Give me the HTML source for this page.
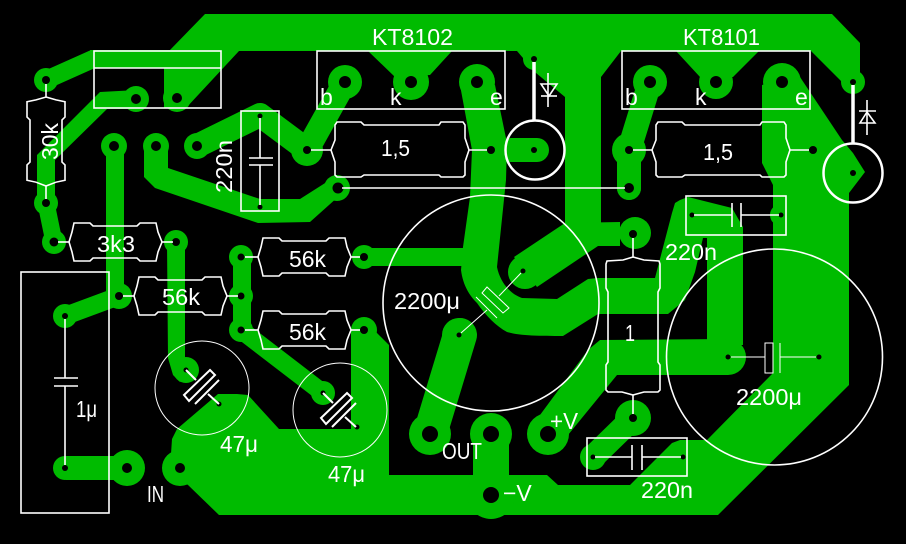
<!DOCTYPE html>
<html lang="en">
<head>
<meta charset="utf-8">
<title>PCB layout</title>
<style>
html,body{margin:0;padding:0;background:#000;width:906px;height:544px;overflow:hidden}
svg{display:block;position:absolute;left:0;top:0}
text{font-family:"Liberation Sans",sans-serif;font-size:23px;fill:#fff;stroke:none}
</style>
</head>
<body>
<svg width="906" height="544" viewBox="0 0 906 544" xmlns="http://www.w3.org/2000/svg">
<defs>
<path id="r" d="M0 0L3-10L5-19L21-19L24-16L68-16L71-19L87-19L89-10L93 0L89 10L87 19L71 19L68 16L24 16L21 19L5 19L3 10Z"/>
<path id="rb" d="M0 0L4-10L4-25L6-28L30-28L33-25L108-25L110-28L132-28L134-25L134-12L138 0L134 12L134 25L132 27L110 27L108 25L33 25L30 27L6 27L4 25L4 12Z"/>
<g id="c47">
<polygon points="210,370 215,375 189,401 184,395" fill="none" stroke="#fff" stroke-width="2"/>
<line x1="219" y1="380" x2="195" y2="404" stroke="#fff" stroke-width="2"/>
<line x1="186" y1="370" x2="196" y2="380" stroke="#fff" stroke-width="2"/>
<line x1="219" y1="404" x2="208" y2="394" stroke="#fff" stroke-width="2"/>
</g>
</defs>
<rect width="906" height="544" fill="#000"/>

<!-- copper -->
<g fill="#00bb00" stroke="none">
<polygon points="205,14 832,14 860,43 860,82 842,82 811,51 759,51 733,77 700,77 676,51 621,51 601,77 601,226 565,226 565,97 530,68 523,58 517,51 452,51 430,75 395,77 368,51 239,51 186,108 164,108 164,68 93,68 90,50 170,50"/>
<path d="M460 85L472 150L470 197L463 247L461 270C463 286 470 296 477 303C486 316 496 326 507 332C520 336 540 336 563 336L598 314L598 278L588 279L557 299L522 298C510 294 500 282 497 267L506 180L507 143L495 85Z"/>
<polygon points="672,213 675,203 680,200 688,197 732,208 743,227 743,345 707,345 707,238 703,238 695,272 685,300 668,314 597,314 597,278 655,278"/>
<polygon points="540,415 588,350 600,340 728,339 728,375 617,375 568,435"/>
<polygon points="514,257 565,223 620,222 620,246 598,246 537,287"/>
<polygon points="37,157 37,155 100,92 136,90 136,109 107,109 55,160 55,205 37,205"/>
<polygon points="144,146 144,177 155,188 258,223 310,222 348,188 333,178 300,199 260,199 168,168 168,146"/>
<polygon points="351,330 351,429 300,429 279,429 248,395 237,394 218,394 177,429 172,439 171,454 162,468 188,485 219,515 718,515 849,385 849,193 865,172 853,153 842,140 800,77 762,85 762,163 773,185 773,373 707,440 680,440 672,443 630,485 558,485 547,475 509,475 509,440 473,440 473,475 389,475 389,345 376,332"/>
<polygon points="106,146 124,146 124,300 106,300"/>
<polygon points="167,242 185,242 185,358 197,370 180,382 173,375 168,358"/>
<polygon points="233,257 251,257 251,330 233,330"/>
<polygon points="364,248 465,248 465,266 364,266"/>
<polygon points="66,456 127,456 127,480 66,480"/>
</g>
<g fill="none" stroke="#00bb00" stroke-linecap="round" stroke-linejoin="round">
<line x1="46" y1="80" x2="93" y2="59" stroke-width="18"/>
<line x1="65" y1="316" x2="119" y2="296" stroke-width="18"/>
<line x1="46" y1="203" x2="54" y2="242" stroke-width="17"/>
<polyline points="197,146 260,115 307,150" stroke-width="24"/>
<line x1="307" y1="150" x2="345" y2="82" stroke-width="24"/>
<line x1="241" y1="330" x2="323" y2="393" stroke-width="18"/>
<line x1="650" y1="82" x2="629" y2="150" stroke-width="24"/>
<line x1="629" y1="150" x2="629" y2="188" stroke-width="24"/>
<line x1="633" y1="418" x2="593" y2="457" stroke-width="24"/>
<line x1="430" y1="434" x2="460" y2="335" stroke-width="34"/>
<line x1="511" y1="150" x2="537" y2="150" stroke-width="24"/>
</g>
<g fill="#00bb00">
<circle cx="46" cy="80" r="12"/><circle cx="46" cy="203" r="12"/><circle cx="54" cy="242" r="12"/>
<circle cx="176" cy="242" r="12"/><circle cx="136" cy="99" r="13"/><circle cx="177" cy="98" r="14"/>
<circle cx="114" cy="146" r="13"/><circle cx="156" cy="146" r="13"/><circle cx="197" cy="146" r="13"/>
<circle cx="119" cy="296" r="13"/><circle cx="65" cy="316" r="12"/><circle cx="65" cy="468" r="12"/>
<circle cx="127" cy="468" r="18"/><circle cx="180" cy="468" r="18"/>
<circle cx="241" cy="257" r="12"/><circle cx="241" cy="296" r="12"/><circle cx="241" cy="330" r="12"/>
<circle cx="186" cy="370" r="13"/><circle cx="323" cy="393" r="12"/>
<circle cx="364" cy="257" r="12"/><circle cx="364" cy="330" r="13"/>
<circle cx="345" cy="82" r="17"/><circle cx="411" cy="82" r="18"/><circle cx="477" cy="82" r="18"/>
<circle cx="650" cy="82" r="17"/><circle cx="716" cy="82" r="17"/><circle cx="782" cy="82" r="19"/>
<circle cx="534" cy="59" r="11"/><circle cx="853" cy="82" r="12"/>
<circle cx="307" cy="150" r="16"/><circle cx="337" cy="188" r="13"/>
<circle cx="629" cy="150" r="17"/><circle cx="629" cy="188" r="12"/>
<circle cx="635" cy="233" r="16"/><circle cx="633" cy="418" r="18"/>
<circle cx="525" cy="272" r="17"/><circle cx="459" cy="335" r="17"/>
<circle cx="430" cy="434" r="21"/><circle cx="491" cy="434" r="21"/><circle cx="548" cy="434" r="21"/>
<circle cx="491" cy="495" r="24"/>
<circle cx="593" cy="457" r="13"/><circle cx="781" cy="215" r="11"/><circle cx="728" cy="357" r="18"/>
<circle cx="692" cy="215" r="10"/>
</g>

<!-- holes -->
<g fill="#000">
<circle cx="46" cy="80" r="4"/><circle cx="46" cy="203" r="4"/><circle cx="54" cy="242" r="4.5"/>
<circle cx="176" cy="242" r="4"/><circle cx="136" cy="99" r="5"/><circle cx="177" cy="98" r="5"/>
<circle cx="114" cy="146" r="5"/><circle cx="156" cy="146" r="5"/><circle cx="197" cy="146" r="5"/>
<circle cx="119" cy="296" r="4"/><circle cx="65" cy="316" r="3"/><circle cx="65" cy="468" r="3"/>
<circle cx="127" cy="468" r="5"/><circle cx="180" cy="468" r="5"/>
<circle cx="241" cy="257" r="3.5"/><circle cx="241" cy="296" r="3.5"/><circle cx="241" cy="330" r="3.5"/>
<circle cx="186" cy="370" r="2.5"/><circle cx="219" cy="404" r="2.5"/><circle cx="323" cy="393" r="2.5"/><circle cx="357" cy="427" r="2.5"/>
<circle cx="260" cy="116" r="2.5"/><circle cx="260" cy="207" r="2.5"/>
<circle cx="364" cy="257" r="4"/><circle cx="364" cy="330" r="4"/>
<circle cx="345" cy="82" r="6"/><circle cx="411" cy="82" r="6"/><circle cx="477" cy="82" r="6"/>
<circle cx="650" cy="82" r="6"/><circle cx="716" cy="82" r="6"/><circle cx="782" cy="82" r="6"/>
<circle cx="534" cy="59" r="3"/><circle cx="853" cy="82" r="3"/>
<circle cx="307" cy="150" r="4"/><circle cx="491" cy="150" r="4"/><circle cx="534" cy="150" r="3"/>
<circle cx="338" cy="188" r="5.5"/><circle cx="629" cy="150" r="4"/><circle cx="813" cy="150" r="4"/><circle cx="629" cy="188" r="5"/>
<circle cx="853" cy="173" r="3"/><circle cx="633" cy="234" r="4"/><circle cx="633" cy="418" r="4"/>
<circle cx="523" cy="271" r="2.5"/><circle cx="459" cy="335" r="2.5"/>
<circle cx="430" cy="434" r="8"/><circle cx="491" cy="434" r="8"/><circle cx="548" cy="434" r="8"/><circle cx="491" cy="495" r="8"/>
<circle cx="593" cy="457" r="2.5"/><circle cx="683" cy="457" r="2.5"/>
<circle cx="692" cy="215" r="2.5"/><circle cx="781" cy="215" r="2.5"/>
<circle cx="728" cy="357" r="2.5"/><circle cx="819" cy="357" r="2.5"/>
</g>

<!-- silkscreen -->
<g fill="none" stroke="#fff" stroke-width="1.6">
<rect x="94" y="51" width="127" height="57"/><line x1="94" y1="68" x2="221" y2="68"/>
<rect x="317" y="51" width="188" height="58"/>
<rect x="622" y="51" width="188" height="58"/>
<rect x="241" y="111" width="38" height="100"/>
<rect x="686" y="196" width="100" height="39"/>
<rect x="587" y="438" width="100" height="38"/>
<rect x="21" y="272" width="88" height="241"/>

<use href="#r" x="69" y="242"/>
<use href="#r" x="134" y="296"/>
<use href="#r" x="258" y="257"/>
<use href="#r" x="258" y="330"/>
<use href="#r" transform="translate(46 97) rotate(90) scale(.957 1)"/>
<use href="#rb" x="652" y="150"/>
<use href="#rb" x="331" y="150"/>
<path d="M633 257L623 260L607 261L606 264L606 288L608 292L608 362L606 365L606 390L608 392L622 392L633 395L644 392L658 392L660 390L660 365L658 362L658 292L660 288L660 264L659 261L644 260Z"/>

<!-- resistor leads -->
<line x1="46" y1="84" x2="46" y2="97"/><line x1="46" y1="186" x2="46" y2="199"/>
<line x1="58" y1="242" x2="69" y2="242"/><line x1="162" y1="242" x2="173" y2="242"/>
<line x1="123" y1="296" x2="134" y2="296"/><line x1="227" y1="296" x2="238" y2="296"/>
<line x1="245" y1="257" x2="258" y2="257"/><line x1="351" y1="257" x2="360" y2="257"/>
<line x1="245" y1="330" x2="258" y2="330"/><line x1="351" y1="330" x2="360" y2="330"/>
<line x1="311" y1="150" x2="331" y2="150"/><line x1="469" y1="150" x2="487" y2="150"/>
<line x1="633" y1="150" x2="652" y2="150"/><line x1="790" y1="150" x2="809" y2="150"/>
<line x1="633" y1="238" x2="633" y2="257"/><line x1="633" y1="395" x2="633" y2="414"/>
<line x1="342" y1="188" x2="625" y2="188"/>

<!-- capacitors -->
<line x1="260" y1="118" x2="260" y2="158"/><line x1="260" y1="165" x2="260" y2="205"/>
<line x1="249" y1="158" x2="273" y2="158"/><line x1="249" y1="165" x2="273" y2="165"/>
<line x1="694" y1="215" x2="732" y2="215"/><line x1="741" y1="215" x2="779" y2="215"/>
<line x1="732" y1="203" x2="732" y2="227"/><line x1="741" y1="203" x2="741" y2="227"/>
<line x1="595" y1="457" x2="632" y2="457"/><line x1="642" y1="457" x2="681" y2="457"/>
<line x1="632" y1="445" x2="632" y2="470"/><line x1="642" y1="445" x2="642" y2="470"/>
<line x1="65" y1="319" x2="65" y2="378"/><line x1="65" y1="386" x2="65" y2="465"/>
<line x1="54" y1="378" x2="78" y2="378"/><line x1="54" y1="386" x2="78" y2="386"/>

<circle cx="491" cy="303" r="108"/>
<circle cx="774.5" cy="357" r="108"/>
<circle cx="202" cy="388" r="47" stroke-width="1"/>
<circle cx="340" cy="410" r="47" stroke-width="1"/>
</g>
<use href="#c47"/>
<use href="#c47" transform="translate(137 23)"/>
<g fill="none" stroke="#fff" stroke-width="1">
<line x1="731" y1="357" x2="765" y2="357"/><rect x="765" y="343" width="8" height="30"/>
<line x1="780" y1="343" x2="780" y2="373"/><line x1="780" y1="357" x2="816" y2="357"/>
<polygon points="487,287 509,308 503,313 482,293"/>
<line x1="476" y1="297" x2="497" y2="318"/>
<line x1="521" y1="273" x2="499" y2="296"/><line x1="461" y1="333" x2="487" y2="310"/>
</g>

<!-- diodes & big pads -->
<g fill="none" stroke="#fff">
<line x1="534" y1="62" x2="534" y2="121" stroke-width="3.5"/>
<line x1="853" y1="85" x2="853" y2="144" stroke-width="3.5"/>
<circle cx="535" cy="150" r="29.5" stroke-width="2.5"/>
<circle cx="853" cy="173" r="29.5" stroke-width="2.5"/>
<g stroke-width="1.6">
<line x1="548" y1="73" x2="548" y2="107"/><polygon points="541,84 557,84 549,96"/><line x1="541" y1="96" x2="557" y2="96"/>
<line x1="867" y1="100" x2="867" y2="135"/><polygon points="860,123 875,123 867,112"/><line x1="859" y1="111" x2="876" y2="111"/>
</g>
</g>

<!-- labels -->
<text x="372" y="45" textLength="81" lengthAdjust="spacingAndGlyphs">KT8102</text>
<text x="683" y="45" textLength="77" lengthAdjust="spacingAndGlyphs">KT8101</text>
<text x="320" y="105" font-size="22">b</text>
<text x="390" y="105">k</text>
<text x="490" y="105">e</text>
<text x="625" y="105">b</text>
<text x="695" y="105">k</text>
<text x="795" y="105">e</text>
<text x="381" y="156" textLength="29" lengthAdjust="spacingAndGlyphs">1,5</text>
<text x="703" y="160" textLength="30" lengthAdjust="spacingAndGlyphs">1,5</text>
<text transform="translate(58 160) rotate(-90)" textLength="37" lengthAdjust="spacingAndGlyphs">30k</text>
<text transform="translate(232 193) rotate(-90)" textLength="53" lengthAdjust="spacingAndGlyphs">220n</text>
<text x="97" y="252" textLength="38" lengthAdjust="spacingAndGlyphs">3k3</text>
<text x="162" y="305" textLength="38" lengthAdjust="spacingAndGlyphs">56k</text>
<text x="289" y="267" textLength="37" lengthAdjust="spacingAndGlyphs">56k</text>
<text x="289" y="340" textLength="37" lengthAdjust="spacingAndGlyphs">56k</text>
<text x="76" y="417" textLength="21" lengthAdjust="spacingAndGlyphs">1μ</text>
<text x="220" y="452" textLength="38" lengthAdjust="spacingAndGlyphs">47μ</text>
<text x="328" y="482" textLength="37" lengthAdjust="spacingAndGlyphs">47μ</text>
<text x="147" y="502" textLength="17" lengthAdjust="spacingAndGlyphs">IN</text>
<text x="394" y="309" textLength="66" lengthAdjust="spacingAndGlyphs">2200μ</text>
<text x="736" y="405" textLength="66" lengthAdjust="spacingAndGlyphs">2200μ</text>
<text x="442" y="459" textLength="40" lengthAdjust="spacingAndGlyphs">OUT</text>
<text x="550" y="429" textLength="28" lengthAdjust="spacingAndGlyphs">+V</text>
<text x="503" y="501">−V</text>
<text x="665" y="260" textLength="52" lengthAdjust="spacingAndGlyphs">220n</text>
<text x="641" y="498" textLength="52" lengthAdjust="spacingAndGlyphs">220n</text>
<text x="625" y="341" textLength="10" lengthAdjust="spacingAndGlyphs">1</text>
</svg>
</body>
</html>
